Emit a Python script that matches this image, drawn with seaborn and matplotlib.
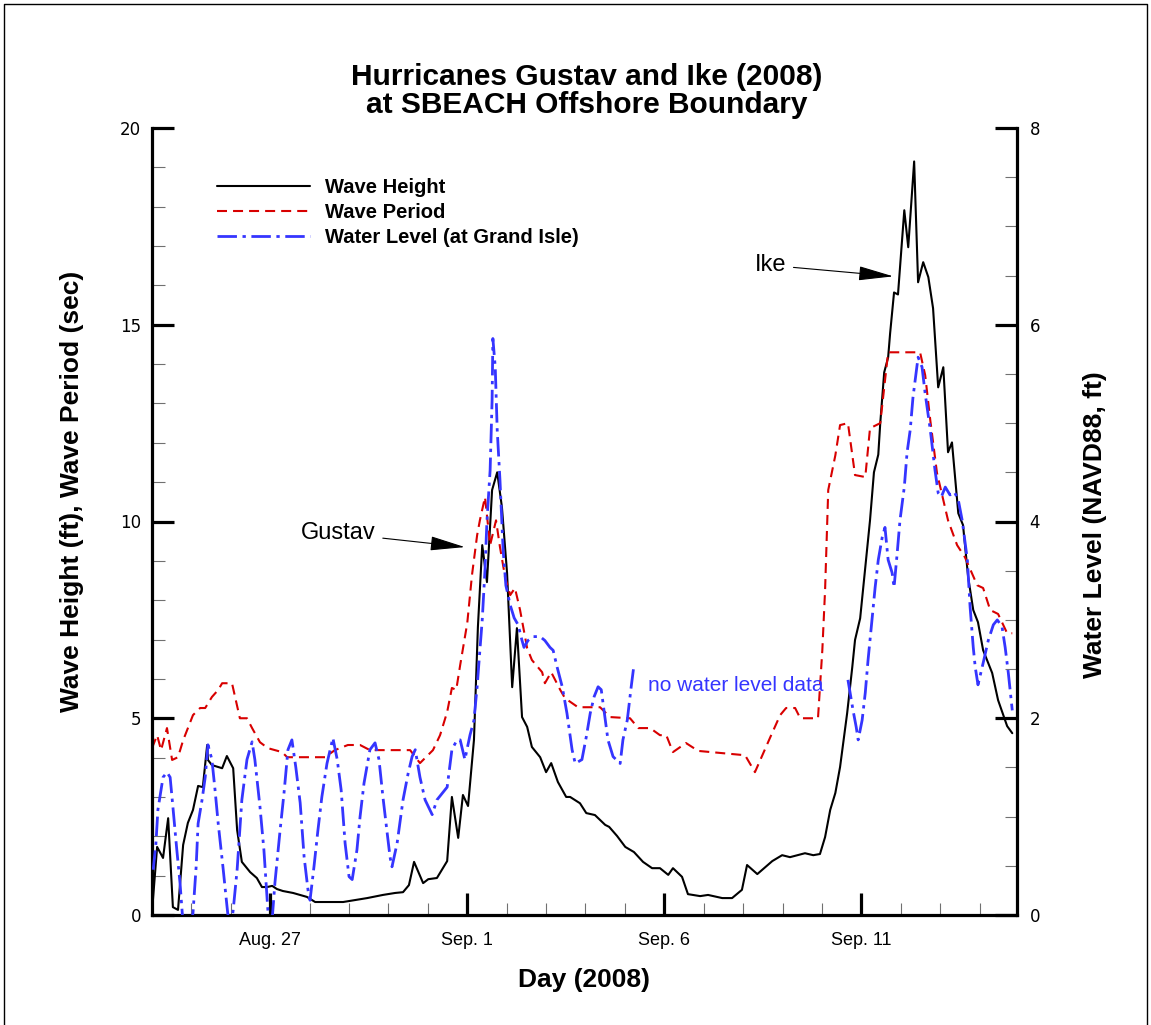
import numpy as np
import pandas as pd
import matplotlib
matplotlib.use('Agg')
import matplotlib.pyplot as plt
import seaborn as sns
from matplotlib.lines import Line2D
from matplotlib.ticker import MultipleLocator, FixedLocator

sns.set_style('white')
plt.rcParams['font.family'] = ['Liberation Sans', 'DejaVu Sans']
plt.rcParams['text.color'] = 'black'
plt.rcParams['axes.labelcolor'] = 'black'
plt.rcParams['xtick.color'] = 'black'
plt.rcParams['ytick.color'] = 'black'

# time axis: days since Aug. 24, 2008 00:00
height_day = [0.00, 0.13, 0.28, 0.41, 0.53, 0.66, 0.79, 0.91, 1.04, 1.17, 1.29, 1.40, 1.42, 1.52,
              1.78, 1.90, 2.06, 2.16, 2.28, 2.49, 2.66, 2.79, 2.92, 3.05, 3.17, 3.32, 3.58, 3.93,
              4.14, 4.85, 5.46, 5.86, 6.17, 6.37, 6.52, 6.65, 6.88, 7.01, 7.23, 7.49, 7.61, 7.77,
              7.89, 8.02, 8.17, 8.27, 8.38, 8.50, 8.63, 8.76, 8.88, 9.01, 9.14, 9.26, 9.39, 9.52,
              9.64, 9.85, 10.00, 10.13, 10.30, 10.51, 10.61, 10.86, 11.02, 11.24, 11.50, 11.60,
              11.80, 12.01, 12.23, 12.46, 12.69, 12.89, 13.10, 13.22, 13.45, 13.60, 13.91, 14.11,
              14.47, 14.72, 14.97, 15.10, 15.36, 15.74, 15.99, 16.19, 16.57, 16.78, 16.95, 17.08,
              17.21, 17.34, 17.46, 17.64, 17.77, 17.84, 17.97, 18.10, 18.22, 18.32, 18.43, 18.48,
              18.58, 18.68, 18.73, 18.83, 18.93, 19.09, 19.19, 19.34, 19.44, 19.57, 19.70, 19.82,
              19.95, 20.08, 20.20, 20.30, 20.46, 20.58, 20.71, 20.84, 20.96, 21.09, 21.32, 21.47,
              21.70, 21.83]
height_ft = [0.08, 1.73, 1.45, 2.46, 0.20, 0.13, 1.78, 2.34, 2.67, 3.28, 3.25, 4.32, 3.94, 3.81,
             3.73, 4.04, 3.73, 2.16, 1.35, 1.09, 0.94, 0.71, 0.71, 0.74, 0.66, 0.61, 0.56, 0.46,
             0.33, 0.33, 0.43, 0.51, 0.56, 0.58, 0.76, 1.35, 0.81, 0.91, 0.94, 1.37, 3.00, 1.96,
             3.05, 2.77, 4.45, 7.32, 9.40, 8.46, 10.80, 11.25, 10.36, 8.69, 5.79, 7.29, 5.03, 4.78,
             4.27, 4.01, 3.63, 3.86, 3.38, 3.00, 3.00, 2.84, 2.59, 2.54, 2.29, 2.24,
             2.01, 1.73, 1.60, 1.35, 1.19, 1.19, 1.02, 1.19, 0.97, 0.53, 0.48, 0.51,
             0.43, 0.43, 0.64, 1.27, 1.04, 1.37, 1.52, 1.47, 1.57, 1.52, 1.55, 1.98,
             2.67, 3.10, 3.76, 5.13, 6.30, 6.99, 7.54, 8.84, 10.03, 11.25, 11.70, 12.50,
             13.79, 14.17, 14.78, 15.82, 15.77, 17.91, 16.97, 19.15, 16.08, 16.59, 16.21, 15.42,
             13.41, 13.92, 11.76, 12.01, 10.21, 9.91, 8.59, 7.75, 7.44, 6.73, 6.15, 5.46,
             4.80, 4.62]

period_day = [0.00, 0.13, 0.23, 0.38, 0.51, 0.66, 0.79, 1.04, 1.22, 1.35, 1.52, 1.68, 1.78, 2.03,
              2.23, 2.41, 2.54, 2.74, 2.94, 3.30, 3.43, 4.39, 4.64, 4.97, 5.28, 5.53, 6.55, 6.80,
              7.13, 7.31, 7.49, 7.61, 7.72, 7.82, 8.00, 8.12, 8.25, 8.32, 8.45, 8.58, 8.73, 8.83,
              8.96, 9.09, 9.21, 9.34, 9.52, 9.64, 9.90, 9.97, 10.13, 10.36, 10.48, 10.81, 11.37,
              11.62, 12.13, 12.34, 12.64, 12.89, 13.05, 13.22, 13.55, 13.86, 15.05, 15.30, 15.69,
              15.94, 16.09, 16.32, 16.45, 16.90, 17.01, 17.08, 17.16, 17.34, 17.46, 17.66, 17.84,
              18.10, 18.22, 18.48, 18.68, 19.49, 19.62, 19.75, 19.92, 20.20, 20.43, 20.63, 20.94,
              21.09, 21.27, 21.47, 21.70, 21.83]
period_sec = [4.24, 4.57, 4.19, 4.75, 3.94, 4.01, 4.44, 5.08, 5.26, 5.26, 5.54, 5.72, 5.89, 5.89,
              5.00, 5.00, 4.75, 4.39, 4.24, 4.14, 4.01, 4.01, 4.19, 4.32, 4.32, 4.19, 4.19, 3.86,
              4.19, 4.57, 5.16, 5.77, 5.72, 6.35, 7.42, 8.64, 9.65, 10.03, 10.62, 9.40, 10.03, 9.35,
              8.59, 8.13, 8.31, 7.75, 6.78, 6.48, 6.17, 5.89, 6.17, 5.72, 5.51, 5.28, 5.28,
              5.03, 5.00, 4.75, 4.75, 4.57, 4.57, 4.14, 4.37, 4.17, 4.06, 3.63, 4.52,
              5.08, 5.26, 5.26, 5.00, 5.00, 6.73, 8.26, 10.80, 11.68, 12.45, 12.50, 11.18,
              11.13, 12.37, 12.50, 14.30, 14.30, 13.72, 12.57, 11.23, 10.03, 9.40, 9.09, 8.38,
              8.31, 7.75, 7.65, 7.16, 7.16]

# water level at Grand Isle, before and after the data gap
level_day_a = [0.03, 0.10, 0.15, 0.28, 0.38, 0.46, 0.53, 0.63, 0.71, 0.79, 0.94, 1.04, 1.12, 1.17,
               1.27, 1.35, 1.42, 1.52, 1.60, 1.68, 1.80, 1.90, 1.98, 2.06, 2.16, 2.28, 2.41, 2.54,
               2.61, 2.74, 2.84, 2.94, 3.02, 3.12, 3.25, 3.35, 3.45, 3.55, 3.65, 3.76, 3.86, 3.96,
               4.01, 4.11, 4.21, 4.31, 4.44, 4.59, 4.70, 4.80, 4.90, 5.00, 5.08, 5.20, 5.28, 5.38,
               5.53, 5.66, 5.76, 5.86, 5.96, 6.04, 6.09, 6.22, 6.37, 6.50, 6.60, 6.68, 6.80, 6.93,
               7.11, 7.23, 7.39, 7.49, 7.61, 7.74, 7.82, 7.94, 8.07, 8.17, 8.25, 8.32, 8.38, 8.45,
               8.50, 8.58, 8.63, 8.65, 8.71, 8.76, 8.83, 8.91, 8.98, 9.09, 9.19, 9.29, 9.39, 9.44,
               9.54, 9.67, 9.85, 9.97, 10.10, 10.18, 10.28, 10.41, 10.53, 10.66, 10.74, 10.91,
               11.02, 11.12, 11.22, 11.32, 11.40, 11.47, 11.57, 11.70, 11.88, 11.95, 12.06, 12.16,
               12.23]
level_ft_a = [0.46, 0.73, 1.07, 1.40, 1.45, 1.40, 1.10, 0.66, 0.33, -0.10, -0.20, 0.02, 0.49, 0.93,
              1.17, 1.40, 1.73, 1.58, 1.27, 0.93, 0.49, 0.10, -0.20, 0.05, 0.46, 1.17, 1.58, 1.76,
              1.58, 1.10, 0.66, 0.05, -0.20, 0.33, 0.86, 1.24, 1.68, 1.78, 1.50, 1.14, 0.59, 0.25,
              0.15, 0.49, 0.86, 1.20, 1.54, 1.80, 1.58, 1.27, 0.73, 0.39, 0.36, 0.66, 1.00, 1.34,
              1.68, 1.75, 1.58, 1.20, 0.86, 0.59, 0.49, 0.73, 1.17, 1.44, 1.61, 1.68, 1.40, 1.17,
              1.02, 1.17, 1.25, 1.30, 1.68, 1.78, 1.78, 1.58, 1.83, 1.98, 2.32, 2.69, 3.00, 3.51,
              4.01, 4.52, 5.23, 5.86, 5.57, 4.93, 4.42, 3.71, 3.35, 3.15, 3.02, 2.95, 2.79, 2.72,
              2.79, 2.83, 2.83, 2.79, 2.72, 2.69, 2.52, 2.32, 2.05, 1.68, 1.54, 1.58,
              1.81, 2.05, 2.22, 2.32, 2.29, 2.08, 1.78, 1.61, 1.54, 1.78, 1.98, 2.32,
              2.54]
level_day_b = [17.66, 17.79, 17.87, 17.92, 18.02, 18.10, 18.17, 18.27, 18.35, 18.43, 18.53, 18.60,
               18.68, 18.78, 18.83, 18.91, 18.98, 19.09, 19.16, 19.24, 19.31, 19.44, 19.54, 19.62,
               19.75, 19.87, 19.95, 20.03, 20.13, 20.25, 20.36, 20.46, 20.56, 20.69, 20.76, 20.84,
               20.89, 20.96, 21.09, 21.22, 21.35, 21.45, 21.57, 21.65, 21.73, 21.83]
level_ft_b = [2.39, 2.08, 1.91, 1.78, 1.98, 2.26, 2.59, 3.00, 3.33, 3.61, 3.84, 3.94,
              3.61, 3.48, 3.33, 3.68, 4.01, 4.35, 4.70, 4.93, 5.26, 5.67, 5.57, 5.30,
              4.93, 4.52, 4.29, 4.25, 4.35, 4.27, 4.30, 4.22, 4.01, 3.61, 3.13, 2.72,
              2.52, 2.34, 2.56, 2.79, 2.95, 3.00, 2.93, 2.72, 2.46, 2.08]

day_ticks = [3, 8, 13, 18]
day_labels = ['Aug. 27', 'Sep. 1', 'Sep. 6', 'Sep. 11']
series_labels = ['Wave Height', 'Wave Period', 'Water Level (at Grand Isle)']

W, H = 1151, 1025
fig = plt.figure(figsize=(W / 100, H / 100), dpi=100)
ax = fig.add_axes([152 / W, 1 - 915 / H, 865 / W, 787 / H])
ax2 = ax.twinx()

red = '#d80000'
blue = '#3535ff'
red_ls = (0, (4.8, 2.9))
blue_ls = (0, (7, 2.0, 1.2, 2.0))

sns.lineplot(x=height_day, y=height_ft, ax=ax, color='black', linewidth=1.5,
             estimator=None, sort=False)
sns.lineplot(x=period_day, y=period_sec, ax=ax, color=red, linewidth=1.5,
             linestyle=red_ls, estimator=None, sort=False)
sns.lineplot(x=level_day_a, y=level_ft_a, ax=ax2, color=blue, linewidth=2.0,
             linestyle=blue_ls, estimator=None, sort=False)
sns.lineplot(x=level_day_b, y=level_ft_b, ax=ax2, color=blue, linewidth=2.0,
             linestyle=blue_ls, estimator=None, sort=False)

ax.set_xlim(0, 21.95)
ax.set_ylim(0, 20)
ax2.set_ylim(0, 8)

# spines
for a in (ax, ax2):
    a.spines['top'].set_visible(False)
ax.spines['right'].set_visible(False)
ax2.spines['left'].set_visible(False)
ax2.spines['bottom'].set_visible(False)
for s in ('left', 'bottom'):
    ax.spines[s].set_linewidth(2.3)
    ax.spines[s].set_color('black')
ax2.spines['right'].set_linewidth(2.3)
ax2.spines['right'].set_color('black')

# ticks
ax.xaxis.set_major_locator(FixedLocator(day_ticks))
ax.set_xticklabels(day_labels)
ax.xaxis.set_minor_locator(MultipleLocator(1))
ax.yaxis.set_major_locator(MultipleLocator(5))
ax.yaxis.set_minor_locator(MultipleLocator(1))
ax2.yaxis.set_major_locator(MultipleLocator(2))
ax2.yaxis.set_minor_locator(MultipleLocator(0.5))

ax.tick_params(which='major', direction='in', length=16, width=2.3, color='black',
               left=True, bottom=True, right=False, top=False)
ax.tick_params(which='minor', direction='in', length=9, width=0.8, color='#707070',
               left=True, bottom=True, right=False, top=False)
ax.tick_params(axis='x', which='major', pad=12, labelsize=13)
ax.tick_params(axis='y', which='major', pad=8, labelsize=12)
ax2.tick_params(which='major', direction='in', length=16, width=2.3, color='black',
                right=True, left=False, pad=9, labelsize=12)
ax2.tick_params(which='minor', direction='in', length=9, width=0.8, color='#707070',
                right=True, left=False)
for lab in ax.get_yticklabels() + ax2.get_yticklabels():
    lab.set_fontfamily('DejaVu Sans')

# labels and title
ax.set_xlabel('Day (2008)', fontsize=19, fontweight='bold', labelpad=14)
ax.set_ylabel('Wave Height (ft), Wave Period (sec)', fontsize=19, fontweight='bold')
ax.yaxis.set_label_coords((84 - 152) / 865, (915 - 491) / 787)
ax2.set_ylabel('Water Level (NAVD88, ft)', fontsize=19, fontweight='bold')
ax2.yaxis.set_label_coords(1 + (1083 - 1017) / 865, (915 - 525) / 787)
fig.text(587 / W, 1 - 91 / H, 'Hurricanes Gustav and Ike (2008)\nat SBEACH Offshore Boundary',
         ha='center', va='center', fontsize=21.5, fontweight='bold', linespacing=1.0)

# legend
handles = [Line2D([], [], color='black', linewidth=1.5),
           Line2D([], [], color=red, linewidth=1.5, linestyle=red_ls),
           Line2D([], [], color=blue, linewidth=2.0, linestyle=blue_ls)]
ax.legend(handles, series_labels, loc='upper left', bbox_to_anchor=((217 - 152) / 865, (915 - 178) / 787),
          frameon=False, borderpad=0, borderaxespad=0, handlelength=4.6, handletextpad=0.75,
          labelspacing=0.3, prop={'weight': 'bold', 'size': 14.5})

# annotations
arrow = dict(arrowstyle='-|>,head_length=2.2,head_width=0.45', color='black', lw=0.8,
             shrinkA=3, shrinkB=0, mutation_scale=10)
ax.annotate('Gustav', xy=(7.94, 9.35), xytext=(4.72, 9.70), fontsize=17,
            ha='center', va='center', arrowprops=arrow)
ax.annotate('Ike', xy=(18.81, 16.23), xytext=(15.69, 16.51), fontsize=17,
            ha='center', va='center', arrowprops=arrow)
ax.text(12.59, 5.84, 'no water level data', color=blue, fontsize=15, ha='left', va='center')

# figure frame (left, top, right)
fig.add_artist(Line2D([4 / W, 4 / W, 1147 / W, 1147 / W], [-0.01, 1 - 4 / H, 1 - 4 / H, -0.01],
                      color='black', linewidth=1.0, transform=fig.transFigure))

fig.savefig('out.png', dpi=100)
